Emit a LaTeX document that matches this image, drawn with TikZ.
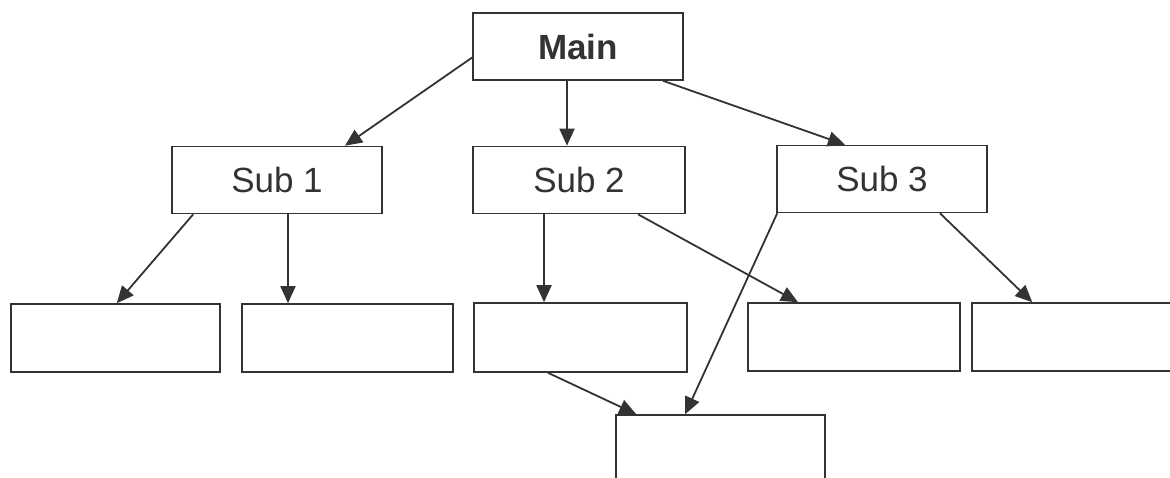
\documentclass[tikz,border=0pt]{standalone}
\usepackage{fontspec}
\setmainfont{Liberation Sans}
\usetikzlibrary{arrows.meta}
\definecolor{ink}{HTML}{333333}
\begin{document}
\begin{tikzpicture}[x=1pt,y=-1pt,
  box/.style={draw=ink,line width=1.6pt,rectangle,inner sep=0pt,
    minimum width=210pt,minimum height=67pt,font=\fontsize{35}{40}\selectfont,text=ink},
  link/.style={draw=ink,line width=1.8pt,-{Triangle[length=17pt,width=15pt]}}]
  \useasboundingbox (0,0) rectangle (1170,477);
  \clip (0,0) rectangle (1170,477);
  \fill[white] (0,0) rectangle (1170,477);

  % top level
  \node[box,font=\bfseries\fontsize{35}{40}\selectfont] (main) at (578,46.5) {Main};

  % second level
  \node[box] (sub1) at (277,180) {Sub 1};
  \node[box,minimum width=212pt] (sub2) at (579,180) {Sub 2};
  \node[box] (sub3) at (882,179) {Sub 3};

  % third level
  \node[box,minimum width=209pt,minimum height=68pt] (b1) at (115.5,338) {};
  \node[box,minimum width=211pt,minimum height=68pt] (b2) at (347.5,338) {};
  \node[box,minimum width=213pt,minimum height=69pt] (b3) at (580.5,337.5) {};
  \node[box,minimum width=212pt,minimum height=68pt] (b4) at (854,337) {};
  \node[box,minimum width=220pt,minimum height=68pt] (b5) at (1082,337) {};

  % bottom box
  \node[box,minimum width=209pt,minimum height=72pt] (b6) at (720.5,451) {};

  % connectors
  \draw[link] ([yshift=-11pt]main.west) -- ([xshift=68pt]sub1.north);
  \draw[link] ([xshift=-11pt]main.south) -- ([xshift=-12pt]sub2.north);
  \draw[link] ([xshift=85pt]main.south) -- ([xshift=-37pt]sub3.north);
  \draw[link] ([xshift=22pt]sub1.south west) -- ([xshift=-104pt]b1.north east);
  \draw[link] ([xshift=11pt]sub1.south) -- ([xshift=-59.5pt]b2.north);
  \draw[link] ([xshift=-35pt]sub2.south) -- ([xshift=-36.5pt]b3.north);
  \draw[link] ([xshift=59pt]sub2.south) -- ([xshift=-56pt]b4.north);
  \draw[link] ([xshift=58pt]sub3.south) -- ([xshift=61pt]b5.north west);
  \draw[link] ([xshift=-32.5pt]b3.south) -- ([xshift=21pt]b6.north west);
  \draw[link] ([xshift=1pt]sub3.south west) -- ([xshift=70pt]b6.north west);
\end{tikzpicture}
\end{document}
